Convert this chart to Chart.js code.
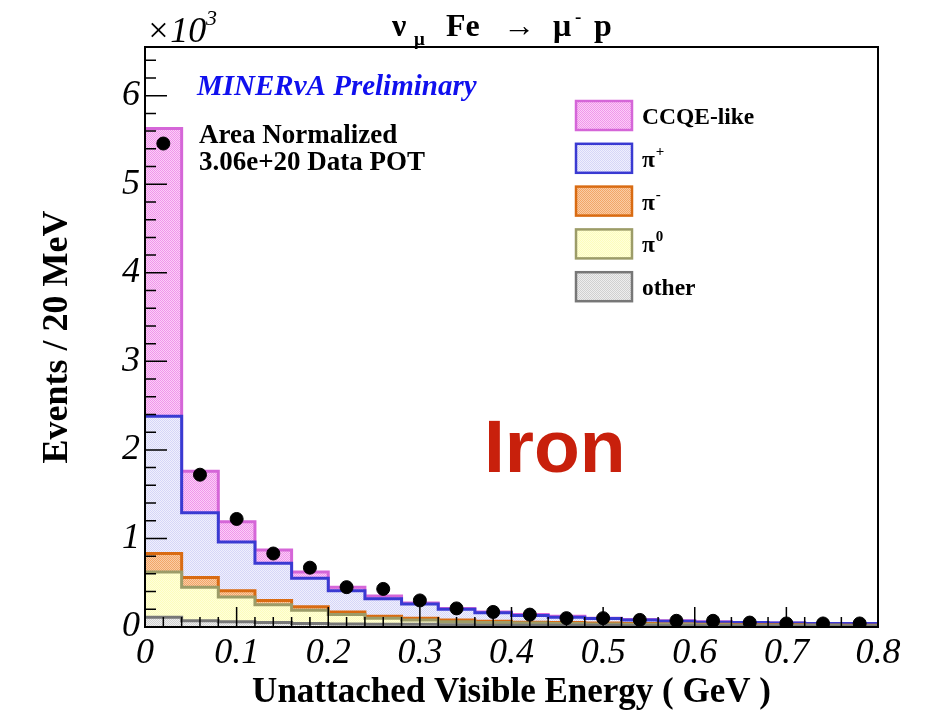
<!DOCTYPE html>
<html>
<head>
<meta charset="utf-8">
<script src="https://cdn.jsdelivr.net/npm/chart.js@4"></script>
<style>
html, body { margin: 0; padding: 0; background: #fff; }
</style>
</head>
<body>
<canvas id="chart" width="930" height="716"></canvas>
<script>
// bin edges (GeV), 20 MeV-ish bins of 0.04
const binEdges = [0, 0.04, 0.08, 0.12, 0.16, 0.20, 0.24, 0.28, 0.32, 0.36, 0.40,
                  0.44, 0.48, 0.52, 0.56, 0.60, 0.64, 0.68, 0.72, 0.76, 0.80];
// stacked components, events x10^3 per bin (bottom to top)
const other   = [0.11, 0.07, 0.06, 0.05, 0.04, 0.035, 0.03, 0.03, 0.025, 0.02, 0.02, 0.02, 0.02, 0.015, 0.015, 0.015, 0.01, 0.01, 0.01, 0.01];
const piZero  = [0.51, 0.38, 0.28, 0.20, 0.15, 0.105, 0.07, 0.05, 0.035, 0.03, 0.025, 0.02, 0.015, 0.015, 0.015, 0.01, 0.01, 0.01, 0.01, 0.005];
const piMinus = [0.21, 0.11, 0.07, 0.05, 0.04, 0.03, 0.02, 0.02, 0.02, 0.015, 0.01, 0.01, 0.01, 0.01, 0.005, 0.005, 0.005, 0.005, 0.0, 0.005];
const piPlus  = [1.55, 0.73, 0.55, 0.42, 0.32, 0.24, 0.20, 0.16, 0.12, 0.095, 0.075, 0.06, 0.05, 0.04, 0.03, 0.025, 0.025, 0.02, 0.02, 0.02];
const ccqe    = [3.25, 0.47, 0.23, 0.15, 0.07, 0.04, 0.03, 0.01, 0.01, 0.01, 0.01, 0.01, 0.005, 0.005, 0.005, 0.005, 0.0, 0.0, 0.0, 0.0];
// data points at bin centres
const dataPts = [5.46, 1.72, 1.22, 0.83, 0.67, 0.45, 0.43, 0.30, 0.21, 0.17, 0.14, 0.10, 0.10, 0.08, 0.07, 0.07, 0.05, 0.04, 0.04, 0.04];

const yTickLabels = ['0', '1', '2', '3', '4', '5', '6'];
const xTickLabels = ['0', '0.1', '0.2', '0.3', '0.4', '0.5', '0.6', '0.7', '0.8'];

// small checker pattern, like ROOT's dotted fill
function makePattern(light, dark) {
    const c = document.createElement('canvas');
    c.width = 2; c.height = 2;
    const g = c.getContext('2d');
    g.fillStyle = light; g.fillRect(0, 0, 2, 2);
    g.fillStyle = dark; g.fillRect(0, 0, 1, 1); g.fillRect(1, 1, 1, 1);
    return g.createPattern(c, 'repeat');
}

const fills = {
    ccqe:    makePattern('rgb(251,205,248)', 'rgb(240,150,234)'),
    piPlus:  makePattern('rgb(240,240,253)', 'rgb(214,214,247)'),
    piMinus: makePattern('rgb(250,205,165)', 'rgb(242,165,105)'),
    piZero:  makePattern('rgb(255,255,218)', 'rgb(252,252,188)'),
    other:   makePattern('rgb(238,238,238)', 'rgb(208,208,208)')
};
const lines = {
    ccqe: '#d566d8', piPlus: '#3a3ad2', piMinus: '#d96b12', piZero: '#9c9c68', other: '#777777'
};

// histogram as stepped line: value at each left edge, last one repeated at the end
function steps(vals) {
    return binEdges.map((e, i) => ({ x: e, y: vals[Math.min(i, vals.length - 1)] }));
}
function histDataset(label, vals, key) {
    return {
        label: label,
        data: steps(vals),
        stepped: true,
        fill: 'origin',
        backgroundColor: fills[key],
        borderColor: lines[key],
        borderWidth: 3,
        pointRadius: 0,
        stack: 'mc'
    };
}

const serif = '"Liberation Serif", "DejaVu Serif", serif';

// inward ticks + frame, ROOT style
const frameTicks = {
    id: 'frameTicks',
    afterDatasetsDraw(chart) {
        const { ctx, chartArea: a, scales: { x, y } } = chart;
        ctx.save();
        ctx.strokeStyle = '#000';
        ctx.lineWidth = 1.5;
        ctx.beginPath();
        for (let i = 0; i <= 40; i++) {
            const px = x.getPixelForValue(i * 0.02);
            const len = i % 5 === 0 ? 20 : 10;
            ctx.moveTo(px, a.bottom);
            ctx.lineTo(px, a.bottom - len);
        }
        for (let i = 0; i <= 32; i++) {
            const py = y.getPixelForValue(i * 0.2);
            const len = i % 5 === 0 ? 22 : 11;
            ctx.moveTo(a.left, py);
            ctx.lineTo(a.left + len, py);
        }
        ctx.stroke();
        ctx.lineWidth = 2;
        ctx.strokeRect(a.left, a.top, a.right - a.left, a.bottom - a.top);
        ctx.restore();
    }
};

// annotations and legend
const annotations = {
    id: 'annotations',
    afterDraw(chart) {
        const ctx = chart.ctx;
        ctx.save();
        ctx.textBaseline = 'alphabetic';
        ctx.fillStyle = '#000';

        // x10^3
        ctx.font = 'italic 36px ' + serif;
        ctx.fillText('\u00d710', 146, 42);
        ctx.font = 'italic 22px ' + serif;
        ctx.fillText('3', 206, 25);

        // title: nu_mu Fe -> mu- p
        ctx.font = 'bold 32px ' + serif;
        ctx.fillText('\u03bd', 392, 36);
        ctx.fillText('Fe', 446, 36);
        ctx.fillText('\u2192', 503, 36);
        ctx.fillText('\u03bc', 553, 36);
        ctx.fillText('p', 594, 36);
        ctx.font = 'bold 19px ' + serif;
        ctx.fillText('\u03bc', 414, 45);
        ctx.fillText('-', 575, 23);

        // MINERvA Preliminary
        ctx.fillStyle = '#1010ee';
        ctx.font = 'italic bold 29px ' + serif;
        ctx.fillText('MINER\u03bdA Preliminary', 197, 95);

        ctx.fillStyle = '#000';
        ctx.font = 'bold 27px ' + serif;
        ctx.fillText('Area Normalized', 199, 143);
        ctx.fillText('3.06e+20 Data POT', 199, 170);

        // Iron
        ctx.fillStyle = '#c8200c';
        ctx.font = 'bold 75px "Liberation Sans", Arial, sans-serif';
        ctx.fillText('Iron', 484, 472);

        // legend
        const items = [
            { key: 'ccqe', text: 'CCQE-like', sup: '' },
            { key: 'piPlus', text: '\u03c0', sup: '+' },
            { key: 'piMinus', text: '\u03c0', sup: '-' },
            { key: 'piZero', text: '\u03c0', sup: '0' },
            { key: 'other', text: 'other', sup: '' }
        ];
        items.forEach((it, i) => {
            const top = 101 + i * 42.8;
            ctx.fillStyle = fills[it.key];
            ctx.fillRect(576, top, 56, 29);
            ctx.strokeStyle = lines[it.key];
            ctx.lineWidth = 2.5;
            ctx.strokeRect(576, top, 56, 29);
            ctx.fillStyle = '#000';
            ctx.font = 'bold 23.5px ' + serif;
            ctx.fillText(it.text, 642, top + 23);
            if (it.sup) {
                const w = ctx.measureText(it.text).width;
                ctx.font = 'bold 15px ' + serif;
                ctx.fillText(it.sup, 642 + w + 1, top + 12);
            }
        });
        ctx.restore();
    }
};

new Chart(document.getElementById('chart'), {
    type: 'line',
    data: {
        datasets: [
            {
                label: 'Data',
                data: dataPts.map((v, i) => ({ x: (binEdges[i] + binEdges[i + 1]) / 2, y: v })),
                showLine: false,
                pointRadius: 6.5,
                pointBackgroundColor: '#000',
                pointBorderColor: '#000',
                stack: 'data'
            },
            histDataset('other', other, 'other'),
            histDataset('\u03c00', piZero, 'piZero'),
            histDataset('\u03c0-', piMinus, 'piMinus'),
            histDataset('\u03c0+', piPlus, 'piPlus'),
            histDataset('CCQE-like', ccqe, 'ccqe')
        ]
    },
    options: {
        responsive: false,
        animation: false,
        layout: { padding: { top: 47, right: 52, left: 0, bottom: 0 } },
        plugins: {
            legend: { display: false },
            tooltip: { enabled: false }
        },
        scales: {
            x: {
                type: 'linear',
                min: 0,
                max: 0.8,
                grid: { display: false },
                border: { display: false },
                afterFit: s => { s.height = 89; },
                ticks: {
                    stepSize: 0.1,
                    autoSkip: false,
                    maxRotation: 0,
                    padding: -3,
                    color: '#000',
                    font: { family: serif, style: 'italic', size: 36 },
                    callback: v => xTickLabels[Math.round(v * 10)]
                },
                title: {
                    display: true,
                    text: 'Unattached Visible Energy ( GeV )',
                    color: '#000',
                    font: { family: serif, weight: 'bold', size: 35 },
                    padding: { top: 0, bottom: 2 }
                }
            },
            y: {
                stacked: true,
                min: 0,
                max: 6.55,
                grid: { display: false },
                border: { display: false },
                afterFit: s => { s.width = 145; },
                ticks: {
                    stepSize: 1,
                    padding: -3,
                    color: '#000',
                    font: { family: serif, style: 'italic', size: 36 },
                    callback: v => Number.isInteger(v) ? yTickLabels[v] : ''
                },
                title: {
                    display: true,
                    text: 'Events / 20 MeV',
                    color: '#000',
                    font: { family: serif, weight: 'bold', size: 36 },
                    padding: { top: 36, bottom: 0 }
                }
            }
        }
    },
    plugins: [frameTicks, annotations]
});
</script>
</body>
</html>
